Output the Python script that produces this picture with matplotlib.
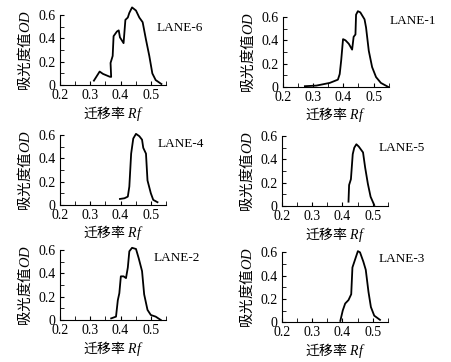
import matplotlib
matplotlib.use("Agg")
import matplotlib.pyplot as plt

# 各泳道的扫描曲线 (迁移率 Rf, 吸光度 OD)
lane6_rf = [0.312, 0.331, 0.342, 0.364, 0.369, 0.367, 0.374, 0.377, 0.388, 0.394, 0.398, 0.410,
            0.416, 0.424, 0.429, 0.438, 0.451, 0.462, 0.473, 0.484, 0.495, 0.505, 0.516, 0.535]
lane6_od = [0.038, 0.116, 0.096, 0.072, 0.070, 0.190, 0.250, 0.420, 0.460, 0.470, 0.410, 0.360,
            0.560, 0.580, 0.620, 0.667, 0.640, 0.580, 0.540, 0.390, 0.250, 0.100, 0.043, 0.009]

lane1_rf = [0.273, 0.311, 0.355, 0.382, 0.388, 0.393, 0.399, 0.407, 0.418, 0.429, 0.434, 0.440,
            0.442, 0.448, 0.456, 0.470, 0.475, 0.484, 0.495, 0.508, 0.524, 0.548]
lane1_od = [0.006, 0.011, 0.034, 0.062, 0.110, 0.230, 0.410, 0.400, 0.370, 0.320, 0.430, 0.450,
            0.620, 0.650, 0.640, 0.580, 0.510, 0.310, 0.170, 0.084, 0.034, 0.0]

lane4_rf = [0.398, 0.413, 0.424, 0.429, 0.435, 0.442, 0.451, 0.462, 0.471, 0.475, 0.484, 0.489,
            0.500, 0.508, 0.522]
lane4_od = [0.051, 0.057, 0.071, 0.157, 0.440, 0.570, 0.610, 0.590, 0.560, 0.490, 0.440, 0.210,
            0.100, 0.043, 0.023]

lane5_rf = [0.420, 0.422, 0.428, 0.434, 0.439, 0.446, 0.454, 0.468, 0.475, 0.484, 0.493, 0.505]
lane5_od = [0.037, 0.180, 0.230, 0.445, 0.500, 0.530, 0.510, 0.460, 0.330, 0.190, 0.079, 0.008]

lane2_rf = [0.369, 0.385, 0.391, 0.396, 0.401, 0.410, 0.418, 0.424, 0.429, 0.438, 0.451, 0.460,
            0.471, 0.478, 0.489, 0.500, 0.516, 0.533]
lane2_od = [0.014, 0.029, 0.170, 0.230, 0.375, 0.375, 0.360, 0.450, 0.590, 0.620, 0.610, 0.530,
            0.420, 0.220, 0.087, 0.043, 0.029, 0.0]

lane3_rf = [0.393, 0.401, 0.409, 0.420, 0.429, 0.433, 0.442, 0.451, 0.458, 0.469, 0.477, 0.486,
            0.494, 0.505, 0.524]
lane3_od = [0.011, 0.100, 0.160, 0.190, 0.240, 0.470, 0.540, 0.610, 0.600, 0.520, 0.450, 0.260,
            0.130, 0.056, 0.020]

x_ticks = [0.2, 0.3, 0.4, 0.5]
x_ticklabels = ["0.2", "0.3", "0.4", "0.5"]
y_ticks = [0, 0.2, 0.4, 0.6]
y_ticklabels = ["0", "0.2", "0.4", "0.6"]

plt.rcParams["font.family"] = ["Liberation Serif", "Noto Sans CJK SC"]
plt.rcParams["mathtext.fontset"] = "custom"
plt.rcParams["mathtext.it"] = "Liberation Serif:italic"
plt.rcParams["mathtext.rm"] = "Liberation Serif"

fig = plt.figure(figsize=(4.51, 3.62), dpi=100)

# (曲线, 名称, 坐标轴位置, 标签位置)
panels = [
    (lane6_rf, lane6_od, "LANE-6", [0.133, 0.765, 0.235, 0.193], (0.915, 0.81)),
    (lane1_rf, lane1_od, "LANE-1", [0.627, 0.760, 0.235, 0.193], (1.01, 0.94)),
    (lane4_rf, lane4_od, "LANE-4", [0.133, 0.434, 0.235, 0.193], (0.92, 0.87)),
    (lane5_rf, lane5_od, "LANE-5", [0.625, 0.431, 0.235, 0.193], (0.91, 0.83)),
    (lane2_rf, lane2_od, "LANE-2", [0.133, 0.116, 0.235, 0.193], (0.88, 0.89)),
    (lane3_rf, lane3_od, "LANE-3", [0.625, 0.110, 0.235, 0.193], (0.91, 0.91)),
]

for rf, od, name, pos, lpos in panels:
    ax = fig.add_axes(pos)
    ax.plot(rf, od, color="black", lw=1.3, clip_on=False)
    ax.set_xlim(0.2, 0.55)
    ax.set_ylim(0, 0.6)
    ax.spines["top"].set_visible(False)
    ax.spines["right"].set_visible(False)
    ax.set_xticks(x_ticks)
    ax.set_xticklabels(x_ticklabels)
    ax.set_yticks(y_ticks)
    ax.set_yticklabels(y_ticklabels)
    ax.set_xticks([0.25, 0.35, 0.45, 0.55], minor=True)
    ax.set_yticks([0.1, 0.3, 0.5], minor=True)
    ax.tick_params(which="both", direction="in", labelsize=10, pad=3)
    ax.tick_params(which="major", length=3)
    ax.tick_params(which="minor", length=3)
    # 中文部分用CJK字体, Rf / OD 用斜体衬线
    ax.set_xlabel("迁移率 $\\mathit{Rf}$", fontsize=10, labelpad=1, family="Noto Sans CJK SC")
    ax.set_ylabel("吸光度值$\\mathit{OD}$", fontsize=10.5, labelpad=4, family="Noto Sans CJK SC")
    ax.text(lpos[0], lpos[1], name, transform=ax.transAxes, fontsize=9.5, va="center", ha="left")

fig.savefig("out.png", dpi=100)
